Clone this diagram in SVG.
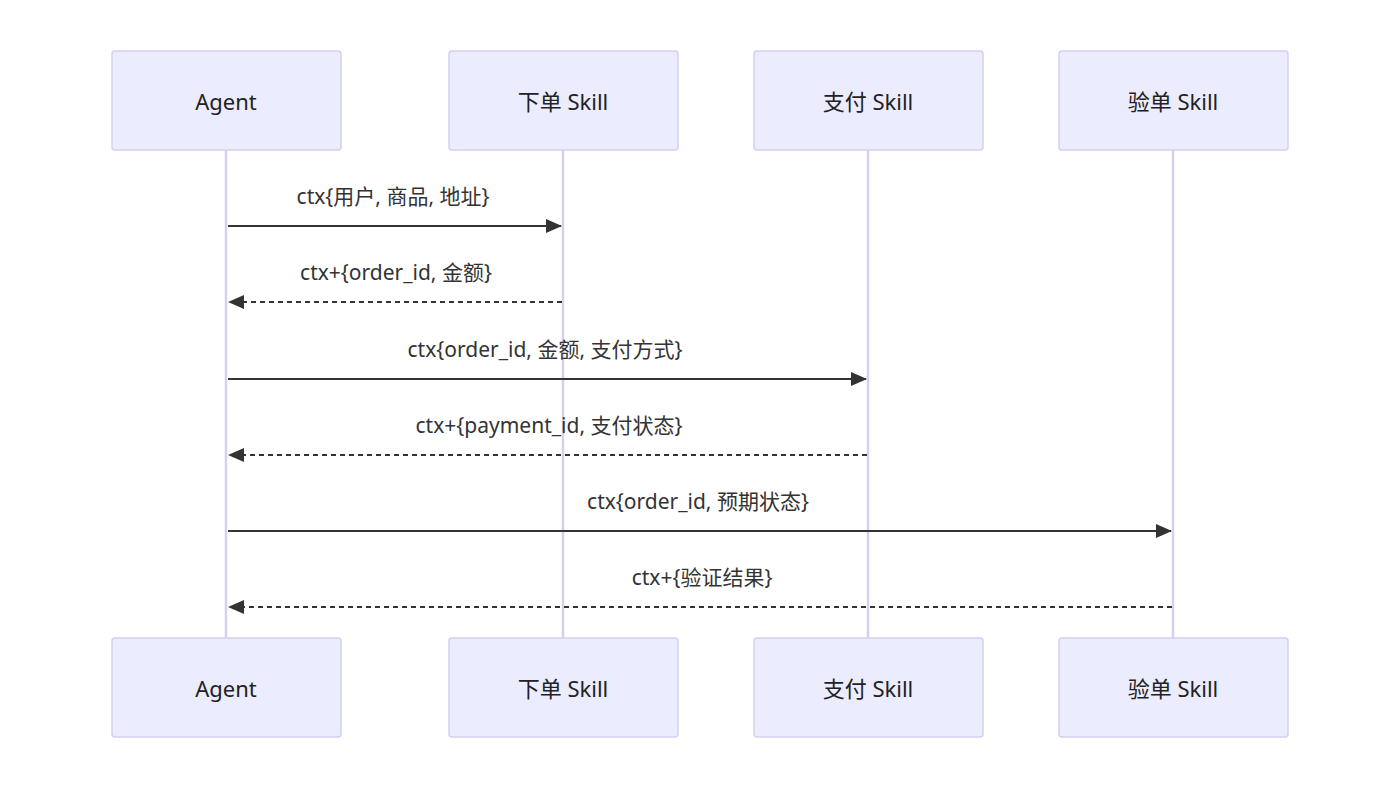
<svg xmlns="http://www.w3.org/2000/svg" width="1400" height="790" viewBox="0 0 1400 790">
<style>
.box{fill:#ECECFF;stroke:#D3CFF0;stroke-width:1.5}
.t{font-family:"Noto Sans","Noto Sans CJK SC",sans-serif;font-size:22px;fill:#222;text-anchor:middle;dominant-baseline:central}
.m{font-family:"Noto Sans","Noto Sans CJK SC",sans-serif;font-size:21px;fill:#333;text-anchor:middle}
.life{stroke:#D6D0F0;stroke-width:2.5}
.msg{stroke:#333;stroke-width:2;fill:none}
.d{stroke-dasharray:5,4}
</style>
<defs>
<marker id="a" viewBox="0 0 12 12" refX="11" refY="6" markerWidth="12" markerHeight="12" markerUnits="userSpaceOnUse" orient="auto"><path d="M0,0L12,6L0,12z" fill="#333"/></marker>
<marker id="b" viewBox="0 0 16 14" refX="15" refY="7" markerWidth="16" markerHeight="14" markerUnits="userSpaceOnUse" orient="auto"><path d="M0,0L16,7L0,14z" fill="#333"/></marker>
</defs>
<rect width="1400" height="790" fill="#fff"/>
<g id="lifelines">
<line class="life" x1="226" y1="150" x2="226" y2="638"/>
<line class="life" x1="563" y1="150" x2="563" y2="638"/>
<line class="life" x1="868" y1="150" x2="868" y2="638"/>
<line class="life" x1="1173" y1="150" x2="1173" y2="638"/>
</g>
<g id="agent"><rect class="box" x="112" y="51" width="229" height="99" rx="3"/><text class="t" x="226" y="101">Agent</text><rect class="box" x="112" y="638" width="229" height="99" rx="3"/><text class="t" x="226" y="688">Agent</text></g>
<g id="order"><rect class="box" x="449" y="51" width="229" height="99" rx="3"/><text class="t" x="563" y="101">下单 Skill</text><rect class="box" x="449" y="638" width="229" height="99" rx="3"/><text class="t" x="563" y="688">下单 Skill</text></g>
<g id="pay"><rect class="box" x="754" y="51" width="229" height="99" rx="3"/><text class="t" x="868" y="101">支付 Skill</text><rect class="box" x="754" y="638" width="229" height="99" rx="3"/><text class="t" x="868" y="688">支付 Skill</text></g>
<g id="verify"><rect class="box" x="1059" y="51" width="229" height="99" rx="3"/><text class="t" x="1173" y="101">验单 Skill</text><rect class="box" x="1059" y="638" width="229" height="99" rx="3"/><text class="t" x="1173" y="688">验单 Skill</text></g>
<g id="connectors">
<line class="msg" x1="228" y1="226" x2="561" y2="226" marker-end="url(#b)"/>
<text class="m" x="393" y="204">ctx{用户, 商品, 地址}</text>
<line class="msg d" x1="562" y1="302" x2="229" y2="302" marker-end="url(#b)"/>
<text class="m" x="396" y="280">ctx+{order_id, 金额}</text>
<line class="msg" x1="228" y1="379" x2="866" y2="379" marker-end="url(#b)"/>
<text class="m" x="545" y="357">ctx{order_id, 金额, 支付方式}</text>
<line class="msg d" x1="867" y1="455" x2="229" y2="455" marker-end="url(#b)"/>
<text class="m" x="549" y="433">ctx+{payment_id, 支付状态}</text>
<line class="msg" x1="228" y1="531" x2="1171" y2="531" marker-end="url(#b)"/>
<text class="m" x="698" y="509">ctx{order_id, 预期状态}</text>
<line class="msg d" x1="1172" y1="607" x2="229" y2="607" marker-end="url(#b)"/>
<text class="m" x="702" y="585">ctx+{验证结果}</text>
</g>
</svg>
